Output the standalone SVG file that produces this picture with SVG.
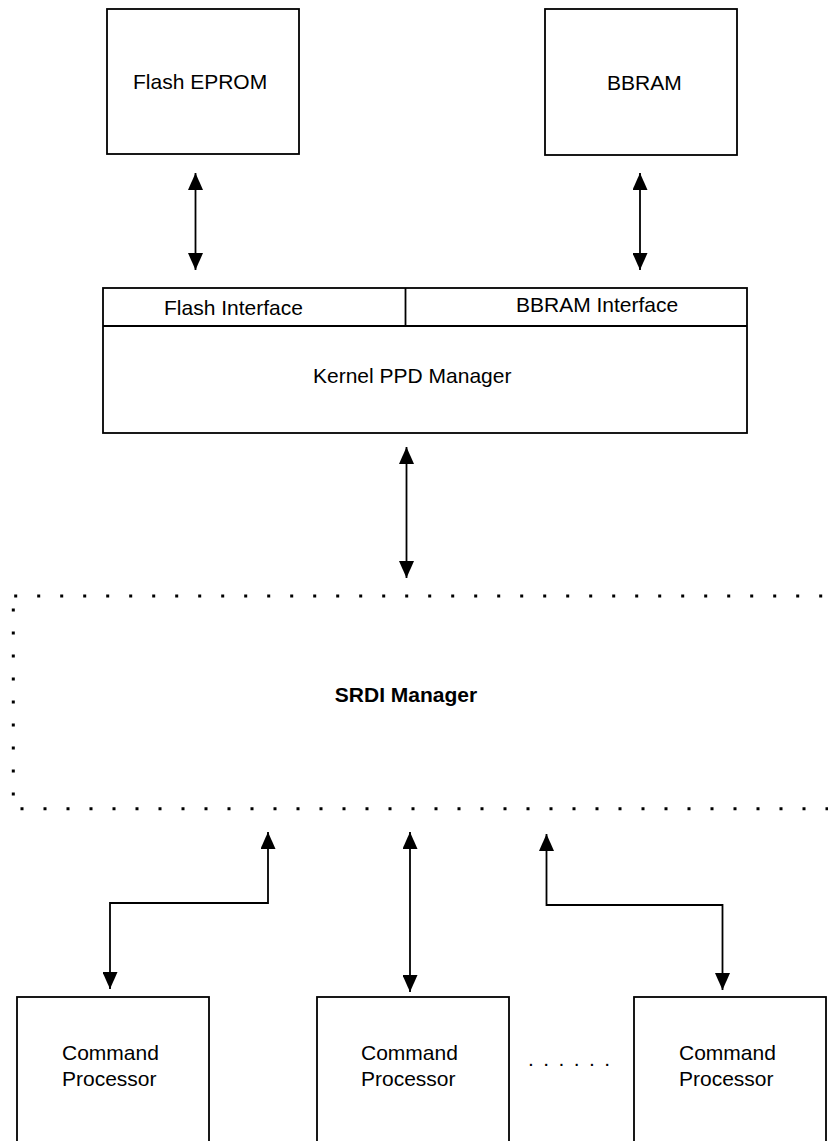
<svg xmlns="http://www.w3.org/2000/svg" width="828" height="1141" viewBox="0 0 828 1141">
<defs>
<style>
.box{fill:#fff;stroke:#000;stroke-width:1.8}
.ln{fill:none;stroke:#000;stroke-width:1.8}
.dot{fill:none;stroke:#000;stroke-width:3;stroke-dasharray:3 20}
.t{font-family:"Liberation Sans",Arial,sans-serif;font-size:21px;fill:#000}
.b{font-weight:bold}
</style>
<marker id="ah" viewBox="0 0 17 15" refX="17" refY="7.5" markerWidth="17" markerHeight="15" markerUnits="userSpaceOnUse" orient="auto-start-reverse">
<path d="M0,0 L17,7.5 L0,15 z" fill="#000"/>
</marker>
</defs>
<rect width="828" height="1141" fill="#fff"/>
<g id="flash-eprom">
<rect class="box" x="107" y="9" width="192" height="145"/>
<text class="t" x="133" y="89">Flash EPROM</text>
</g>
<g id="bbram">
<rect class="box" x="545" y="9" width="192" height="146"/>
<text class="t" x="607" y="90">BBRAM</text>
</g>
<g id="kernel-ppd-manager">
<rect class="box" x="103" y="288" width="644" height="145"/>
<line class="ln" x1="103" y1="326" x2="747" y2="326"/>
<line class="ln" x1="405.5" y1="288" x2="405.5" y2="326"/>
<text class="t" x="164" y="315">Flash Interface</text>
<text class="t" x="516" y="312">BBRAM Interface</text>
<text class="t" x="313" y="383">Kernel PPD Manager</text>
</g>
<g id="srdi-manager">
<line class="dot" x1="14.2" y1="596" x2="830" y2="596"/>
<line class="dot" x1="13.3" y1="608.5" x2="13.3" y2="800"/>
<line class="dot" x1="20.5" y1="808.7" x2="830" y2="808.7"/>
<text class="t b" x="406" y="702" text-anchor="middle">SRDI Manager</text>
</g>
<g id="cmd1">
<rect class="box" x="17" y="997" width="192" height="160"/>
<text class="t" x="62" y="1060">Command</text>
<text class="t" x="62" y="1086">Processor</text>
</g>
<g id="cmd2">
<rect class="box" x="317" y="997" width="192" height="160"/>
<text class="t" x="361" y="1060">Command</text>
<text class="t" x="361" y="1086">Processor</text>
</g>
<g id="ellipsis">
<text class="t" x="528" y="1066" letter-spacing="1.8">. . . . . .</text>
</g>
<g id="cmd3">
<rect class="box" x="634" y="997" width="192" height="160"/>
<text class="t" x="679" y="1060">Command</text>
<text class="t" x="679" y="1086">Processor</text>
</g>
<g id="connectors">
<line class="ln" x1="195.5" y1="173" x2="195.5" y2="270" marker-start="url(#ah)" marker-end="url(#ah)"/>
<line class="ln" x1="640" y1="173" x2="640" y2="270" marker-start="url(#ah)" marker-end="url(#ah)"/>
<line class="ln" x1="406.5" y1="447" x2="406.5" y2="578" marker-start="url(#ah)" marker-end="url(#ah)"/>
<polyline class="ln" points="268,832 268,903 110,903 110,989" marker-start="url(#ah)" marker-end="url(#ah)"/>
<line class="ln" x1="410" y1="832" x2="410" y2="992" marker-start="url(#ah)" marker-end="url(#ah)"/>
<polyline class="ln" points="546.5,834 546.5,905 722.5,905 722.5,990" marker-start="url(#ah)" marker-end="url(#ah)"/>
</g>
</svg>
